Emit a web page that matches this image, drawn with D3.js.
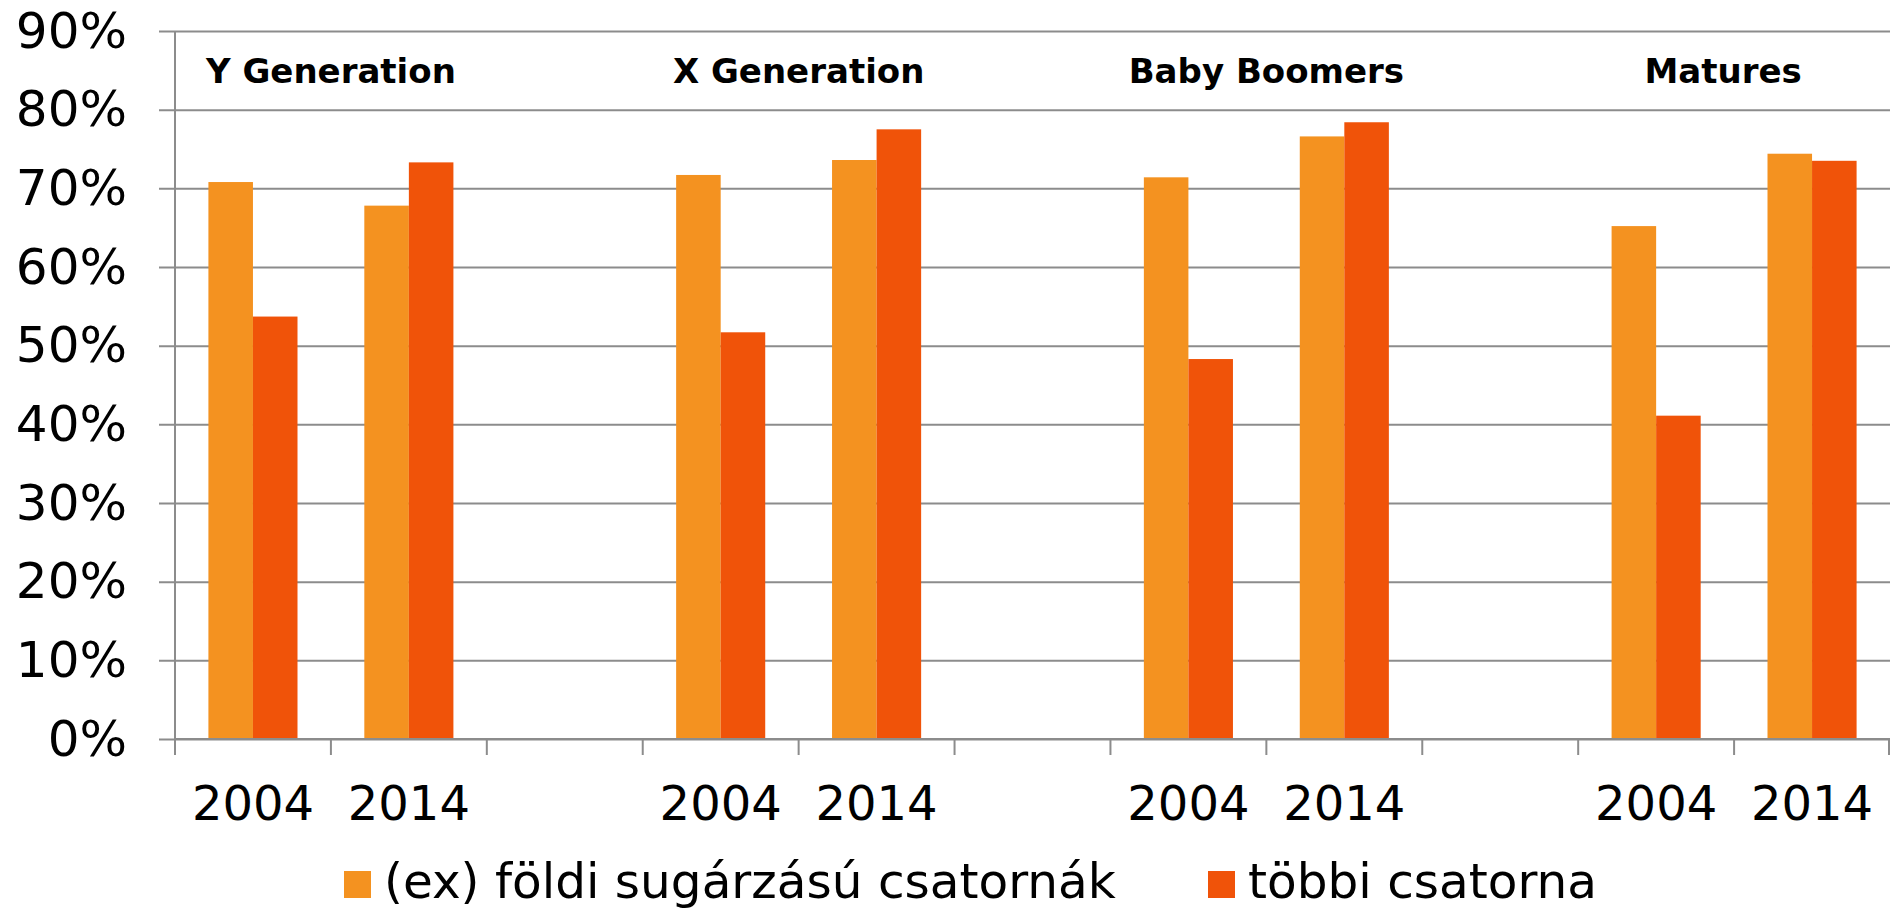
<!DOCTYPE html>
<html>
<head>
<meta charset="utf-8">
<script src="https://cdn.jsdelivr.net/npm/d3@7"></script>
<style>
  body { margin: 0; background: #fff; }
  text { font-family: "DejaVu Sans", Verdana, sans-serif; fill: #000; }
</style>
</head>
<body>
<svg width="1890" height="910"></svg>
<script>
  // DATA
  const groups = ["Y Generation", "X Generation", "Baby Boomers", "Matures"];
  const years = ["2004", "2014"];
  const seriesNames = ["(ex) földi sugárzású csatornák", "többi csatorna"];
  // values per group/year, in order Y04, Y14, X04, X14, BB04, BB14, M04, M14
  const terrestrial = [70.8, 67.8, 71.7, 73.6, 71.4, 76.6, 65.2, 74.4];
  const other = [53.7, 73.3, 51.7, 77.5, 48.3, 78.4, 41.1, 73.5];
  const yTicks = [0, 10, 20, 30, 40, 50, 60, 70, 80, 90];
  const colors = ["#F49220", "#F05309"];

  // SVG PARAMETERS
  const svg = d3.select("svg");
  const width = +svg.attr("width");
  const height = +svg.attr("height");
  const margin = { top: 31, right: 0, bottom: 171, left: 175 };
  const innerWidth = width - margin.left - margin.right;
  const innerHeight = height - margin.top - margin.bottom;

  // build categories with an empty slot between generations
  const slots = [];
  const rows = [];
  groups.forEach((g, gi) => {
    years.forEach((y, yi) => {
      const key = `${gi}-${y}`;
      slots.push(key);
      rows.push({ key, group: g, year: y, values: [terrestrial[gi * 2 + yi], other[gi * 2 + yi]] });
    });
    if (gi < groups.length - 1) slots.push(`gap${gi}`);
  });

  const x = d3.scaleBand().domain(slots).range([0, innerWidth]).padding(0);
  const xInner = d3.scaleBand().domain([0, 1]).range([0, x.bandwidth()])
    .paddingInner(0).paddingOuter(0.75);
  const y = d3.scaleLinear().domain([0, 90]).range([innerHeight, 0]);

  const g = svg.append("g").attr("transform", `translate(${margin.left},${margin.top})`);

  // GRIDLINES + Y AXIS
  const yAxis = d3.axisLeft(y).tickValues(yTicks).tickFormat(d => d + "%")
    .tickSize(-innerWidth).tickPadding(48);
  const yAxisG = g.append("g").call(yAxis);
  yAxisG.select(".domain").remove();
  yAxisG.selectAll(".tick line").attr("x1", -16).attr("stroke", "#8c8c8c").attr("stroke-width", 2);
  yAxisG.selectAll(".tick text").attr("font-size", 50).attr("fill", "#000")
    .attr("font-family", "DejaVu Sans, Verdana, sans-serif");

  // BARS
  const cat = g.selectAll(".cat").data(rows).enter().append("g")
    .attr("transform", d => `translate(${x(d.key)},0)`);
  cat.selectAll("rect").data(d => d.values).enter().append("rect")
    .attr("x", (d, i) => xInner(i))
    .attr("width", xInner.bandwidth())
    .attr("y", d => y(d))
    .attr("height", d => innerHeight - y(d))
    .attr("fill", (d, i) => colors[i]);

  // Y AXIS LINE
  g.append("line").attr("x1", 0).attr("x2", 0).attr("y1", 0).attr("y2", innerHeight)
    .attr("stroke", "#8c8c8c").attr("stroke-width", 2);

  // X AXIS
  const xAxisG = g.append("g").attr("transform", `translate(0,${innerHeight})`);
  xAxisG.append("line").attr("x1", 0).attr("x2", innerWidth)
    .attr("stroke", "#8c8c8c").attr("stroke-width", 2);
  const bounds = slots.map(s => x(s)).concat([innerWidth - 1]);
  xAxisG.selectAll(".bt").data(bounds).enter().append("line")
    .attr("x1", d => d).attr("x2", d => d).attr("y1", 0).attr("y2", 16)
    .attr("stroke", "#8c8c8c").attr("stroke-width", 2);
  xAxisG.selectAll(".yl").data(rows).enter().append("text")
    .attr("x", d => x(d.key) + x.bandwidth() / 2)
    .attr("y", 81)
    .attr("text-anchor", "middle")
    .attr("font-size", 48)
    .text(d => d.year);

  // GROUP TITLES (the last one sits a little left of its group centre)
  const titleShift = [0, 0, 0, -11];
  g.selectAll(".gt").data(groups).enter().append("text")
    .attr("x", (d, i) => (x(`${i}-2004`) + x(`${i}-2014`) + x.bandwidth()) / 2 + titleShift[i])
    .attr("y", 52)
    .attr("text-anchor", "middle")
    .attr("font-size", 34)
    .attr("font-weight", "bold")
    .text(d => d);

  // LEGEND
  const legendX = [344, 1208];
  const legend = svg.selectAll(".lg").data(seriesNames).enter().append("g")
    .attr("transform", (d, i) => `translate(${legendX[i]},871)`);
  legend.append("rect").attr("width", 27).attr("height", 27).attr("fill", (d, i) => colors[i]);
  legend.append("text").attr("x", 40).attr("y", 27).attr("font-size", 48.5).text(d => d);
</script>
</body>
</html>
